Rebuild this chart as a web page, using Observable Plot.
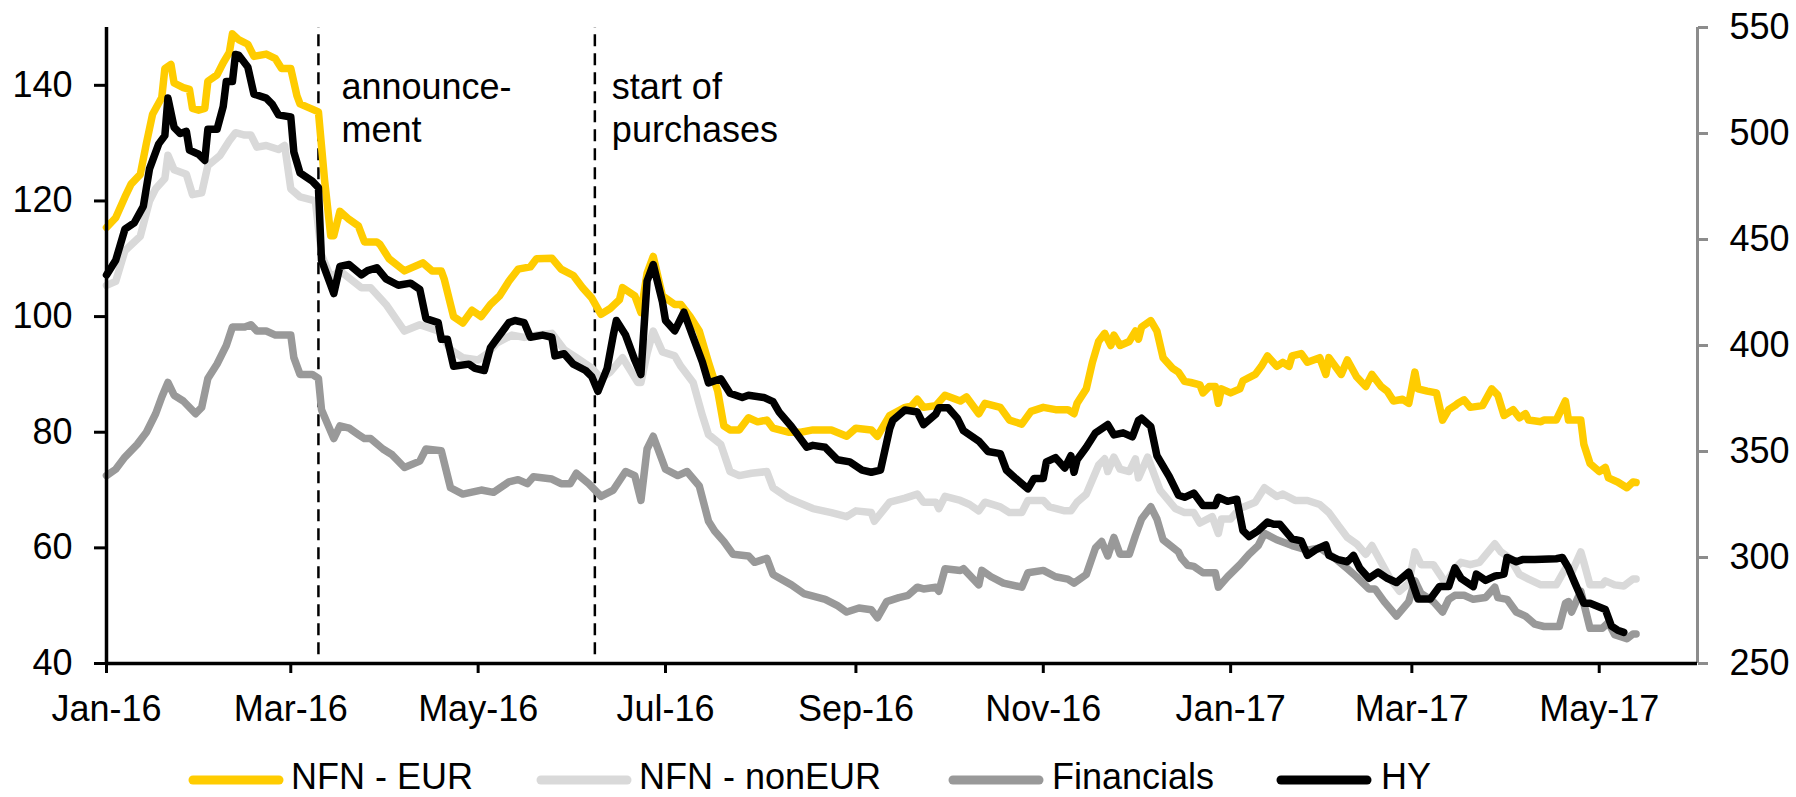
<!DOCTYPE html>
<html>
<head>
<meta charset="utf-8">
<script src="https://cdn.jsdelivr.net/npm/d3@7"></script>
<script src="https://cdn.jsdelivr.net/npm/@observablehq/plot@0.6"></script>
<style>
  html, body { margin: 0; padding: 0; background: #fff; overflow: hidden; }
  #chart { width: 1796px; height: 797px; position: relative; }
  #chart svg { display: block; }
</style>
</head>
<body>
<div id="chart"></div>
<script>
// ---- Data (day offsets from 1 Jan 2016) ----
const seriesNames = ["NFN - EUR", "NFN - nonEUR", "Financials", "HY"];
const seriesColors = ["#FFCC00", "#D9D9D9", "#999999", "#000000"];

const eurDays = [0,3,6,8,11,13,15,18,19,21,22,25,27,28,30,32,33,36,38,40,41,43,46,48,52,55,57,60,62,63,66,69,71,73,74,76,79,82,84,88,89,92,97,100,103,106,109,110,113,116,119,122,125,128,131,134,138,140,145,148,152,155,158,161,164,167,168,172,174,176,178,181,185,187,190,193,196,199,201,203,206,209,212,215,217,222,226,230,236,241,244,249,251,255,260,262,264,266,270,273,278,280,284,286,291,294,298,301,305,309,313,315,316,319,321,323,325,327,328,330,333,335,336,337,340,342,344,347,349,351,353,356,357,359,361,362,363,366,369,370,374,376,378,381,383,385,386,389,391,395,397,398,402,404,407,410,412,415,417,419,422,424,426,427,430,433,435,437,439,440,442,444,448,451,453,455,458,460,462,463,467,468,472,475,476,480,481,483,486,488,489,492,495,497,498];
const eurVals = [115.4,117.1,120.7,122.9,124.6,130,135,137.9,142.9,143.6,140.4,139.6,139.3,136,135.7,136,140.7,141.8,143.9,145.7,148.9,147.9,147.1,145,145.4,144.6,142.9,142.9,138.2,136.8,136.1,135.4,123.6,114,114,118.2,116.8,115.7,112.9,112.9,112.5,110,107.9,108.6,109.3,107.9,107.9,106.4,100,98.9,101.1,100,102.1,103.6,106.1,108.2,108.6,110,110.1,108.2,107.1,105,103.2,100.4,101.4,102.9,105,103.6,100.7,107.5,110.4,103.6,102.1,102.1,100,97.5,92.1,87.1,81.1,80.4,80.4,82.5,81.8,82.1,80.7,80,80,80.4,80.4,79.3,80.7,80.4,79.3,82.9,84.3,84.5,85.7,84.3,84.6,86.4,85.4,86.1,83.2,85,84.3,82.1,81.4,83.6,84.3,83.9,83.9,83.2,85,87.5,92.1,95.7,97.1,95,96.8,95,95.7,97.5,96.1,98.2,99.3,97.5,92.9,91.1,90.4,88.8,88.6,88.2,86.8,87.9,87.9,85,87.5,86.8,87.5,88.9,90,91.4,93.2,91.4,92.1,91.4,93.2,93.6,92.1,92.9,90,92.9,90,92.5,89.6,87.9,90,87.9,87.1,85.4,85.7,85,90.4,87.5,87.1,86.8,82.1,83.9,84.6,85,85.6,84.3,84.6,87.5,86.4,82.9,83.9,82.5,83.2,82.1,81.8,82.1,82.1,85.4,82.1,82.1,77.9,74.6,73.2,73.9,72.1,71.4,70.4,71.4,71.3];

const nonEurDays = [0,3,6,11,14,16,19,20,22,26,28,31,33,37,40,42,45,47,49,52,56,58,60,63,68,70,73,76,83,86,91,97,102,108,112,116,121,124,127,132,136,140,145,149,153,158,161,164,168,173,174,176,178,181,185,187,191,194,196,200,203,206,210,215,217,222,225,230,236,241,244,249,250,255,260,264,266,270,271,273,278,281,284,286,291,294,298,300,305,307,312,314,316,319,323,325,326,328,330,333,335,336,339,343,348,351,354,356,360,362,363,366,369,374,377,381,383,387,391,395,398,401,404,407,410,412,415,418,421,424,426,428,432,436,439,441,444,447,452,454,457,460,463,467,472,475,477,480,481,483,487,488,491,494,497,498];
const nonEurVals = [105.4,106.1,111.4,113.9,120,122.1,123.9,127.9,125.4,124.6,121.1,121.4,126.1,127.9,130.4,131.8,131.4,131.4,129.3,129.6,128.9,129.6,122.1,120.7,120,110.7,106.8,107.9,105,105,102.1,97.5,98.6,97.5,94.3,92.9,92.5,93.6,95.4,96.8,96.4,96.8,97.1,94.3,92.9,91.1,89.3,90.4,92.9,88.6,88.6,93.6,97.5,93.9,93.2,91.4,88.6,82.9,79.6,77.9,73.2,72.5,72.9,73.2,70.4,68.6,67.9,66.8,66.1,65.4,66.4,66.1,64.6,67.9,68.6,69.3,67.9,67.9,66.8,68.9,68.2,67.5,66.4,67.9,67.1,66.1,66.1,68.2,68.2,67.1,66.4,66.4,67.9,69.3,74.3,75.4,73.2,75.7,73.6,73.2,75.4,72.1,75.7,70,66.8,66.1,66.1,64.3,65.4,62.5,65,65,66.8,67.9,70.4,68.9,69.3,68.2,68.2,67.5,66.1,63.9,61.8,60.7,58.9,60.4,57.5,54.6,52.5,53.9,59.3,57.1,57.1,53.9,56.4,57.5,57.1,57.5,60.7,59.3,58.2,55.4,54.6,53.6,53.6,56.4,55.7,59.3,57.5,53.6,53.6,54.3,53.6,53.4,54.6,54.6];

const finDays = [0,3,6,10,13,16,18,20,22,25,29,31,33,36,39,41,45,47,49,52,55,60,61,63,67,69,70,74,76,79,82,84,86,90,93,97,102,104,109,112,116,122,126,131,134,137,139,145,148,151,153,157,161,165,169,172,174,176,178,182,186,189,193,196,198,201,204,209,211,215,217,223,227,234,238,241,245,249,251,254,258,261,264,266,270,271,273,278,279,284,285,288,292,298,300,305,309,313,315,319,322,324,326,328,330,333,335,337,340,342,344,349,350,352,354,357,361,362,365,369,372,375,377,381,386,391,395,400,404,407,411,413,416,420,424,426,428,431,432,435,437,439,442,445,449,452,453,456,459,462,465,468,473,475,476,477,480,483,487,489,491,495,497,498];
const finVals = [72.5,73.6,75.7,77.9,80,83.2,86.1,88.6,86.4,85.4,83.2,84.3,89.3,91.8,95,98.2,98.2,98.6,97.5,97.5,96.8,96.8,92.9,90,90,89.3,83.9,78.9,81.1,80.7,79.6,78.9,78.9,77.1,76.1,73.9,75,77.1,76.8,70.4,69.3,70,69.6,71.4,71.8,71.1,72.3,71.9,71.1,71.1,72.9,71.1,68.9,70,73.2,72.5,68.2,77.1,79.3,73.6,72.5,73.2,70.7,64.6,62.9,61.1,58.9,58.6,57.5,58.2,55.4,53.6,52.1,51.1,50,48.9,49.6,49.3,47.9,50.7,51.4,51.8,53.2,52.9,53.2,52.5,56.4,56.1,56.4,53.6,56.1,55,53.9,53.2,55.7,56.1,55,54.6,53.9,55.4,60,61.1,58.6,61.8,58.9,58.9,62.1,65,67.1,65,61.4,59.3,58.2,57,56.8,55.7,55.7,53.2,55,57.1,58.9,60.4,62.5,61.4,60.4,59.6,60,58.2,56.4,55,52.9,52.9,50.7,48.2,50.7,54.3,52.1,51.1,50.7,48.9,51.1,51.8,51.8,51.1,51.4,53.2,51.4,51.1,48.9,48.2,46.8,46.4,46.4,50.4,50.7,48.9,52.5,46.1,46.1,47.1,45,44.3,45.1,45.1];

// HY is on the right-hand axis (bp)
const hyDays = [0,3,6,9,12,14,17,19,20,22,24,26,27,30,32,33,36,38,39,41,42,43,46,48,52,54,56,60,61,63,67,69,70,74,76,79,83,85,88,91,95,99,102,104,108,109,111,113,118,120,123,125,127,131,133,136,138,142,145,146,149,152,156,158,160,163,165,166,169,172,174,176,178,181,182,185,188,191,194,196,200,203,207,209,214,217,219,223,228,230,234,238,242,246,249,252,255,256,260,264,266,270,271,274,277,279,284,287,291,293,296,300,302,305,306,309,312,314,315,316,319,322,326,328,331,334,336,337,340,342,346,349,351,354,357,361,362,365,368,370,372,375,378,380,382,386,389,391,394,397,398,401,404,406,408,411,414,417,420,424,427,431,434,437,439,441,445,446,449,452,455,456,459,461,465,472,474,476,478,481,483,488,490,492,494];
const hyVals = [433.3,440.2,454.9,457.8,465.7,483.3,495.1,499,516.7,502.9,500,501,492.2,490.2,487.3,502,502,512.7,524.5,524.5,537.3,537,531.4,518.6,516.7,513.7,508.8,507.8,491.2,481.4,477.5,474.5,440.2,424.5,437.3,438.2,433.3,435.3,436.7,431.4,428.4,429.4,426.5,412.7,410.8,402.9,402.9,390.2,391.2,389.2,388.2,399,402.9,410.8,411.8,410.8,403.9,404.9,403.9,395.1,396.1,391.2,388.2,385.3,378.4,389.2,404.9,411.8,404.9,393.1,386.3,430.4,438.2,420.6,411.8,406.9,415.7,403.9,392.2,382.4,384.3,377.5,375.5,376.5,375.5,373.5,368.6,361.8,352,352.9,352,346.1,345.1,341.2,340.2,341.2,360.8,364.7,369.6,368.6,362.7,367.6,370.6,370.6,365.7,359.8,354.9,350,349,341.2,337.3,332.4,337.3,337.3,345.1,347.1,342.2,348,340.2,346.1,352,358.8,362.7,357.8,358.8,356.9,364.7,365.7,361.8,348,338.2,329.4,328.4,330.4,324.5,324.5,328.4,326.5,327.5,312.7,309.8,312.7,316.7,315.7,315.7,308.8,307.8,301,303.9,305.9,301,299,298,301,295.1,290.2,293.1,290.2,288.2,293.1,280.4,280.4,286.3,286.3,295.1,290.2,286.3,292.2,289.2,291.2,292.2,300,298,299,299,299.4,300,295.1,288.2,278.4,278.4,275.5,267.6,265.7,264.7];

// Axes & annotations
const xTickDates = ["2016-01-01","2016-03-01","2016-05-01","2016-07-01","2016-09-01","2016-11-01","2017-01-01","2017-03-01","2017-05-01"];
const leftTicks = [40,60,80,100,120,140];
const rightTicks = [250,300,350,400,450,500,550];
const eventDates = ["2016-03-10","2016-06-08"];
const eventLabels = ["announce-\nment","start of\npurchases"];

// ---- Build ----
const day0 = Date.UTC(2016,0,1);
const toDate = d => new Date(day0 + d * 864e5);
const leftDomain = [40, 150];
const rightDomain = [250, 550];
const toLeft = v => leftDomain[0] + (v - rightDomain[0]) * (leftDomain[1]-leftDomain[0]) / (rightDomain[1]-rightDomain[0]);
const toRight = v => rightDomain[0] + (v - leftDomain[0]) * (rightDomain[1]-rightDomain[0]) / (leftDomain[1]-leftDomain[0]);

function mk(name, days, vals, conv) {
  return days.map((d, i) => ({series: name, date: toDate(d), value: conv ? conv(vals[i]) : vals[i]}));
}
const series = [
  mk(seriesNames[0], eurDays, eurVals),
  mk(seriesNames[1], nonEurDays, nonEurVals),
  mk(seriesNames[2], finDays, finVals),
  mk(seriesNames[3], hyDays, hyVals, toLeft)
];

const xStart = new Date(day0);
const xEnd = new Date(Date.UTC(2017,5,2));
const font = "'Liberation Sans', Arial, Helvetica, sans-serif";
const events = eventDates.map((d, i) => ({date: new Date(d), label: eventLabels[i]}));
const eventDx = [23, 17];

const plot = Plot.plot({
  width: 1796,
  height: 741,
  marginLeft: 106,
  marginRight: 99,
  marginTop: 27,
  marginBottom: 78,
  style: {fontFamily: font, fontSize: "36px", color: "#000", background: "#fff", overflow: "visible"},
  x: {type: "utc", domain: [xStart, xEnd]},
  y: {domain: leftDomain},
  marks: [
    Plot.ruleX(events, {x: "date", y1: 41.5, y2: 150, stroke: "#000", strokeWidth: 2.5, strokeDasharray: "12,7"}),
    ...events.map((e, i) => Plot.text([e], {x: "date", y: 143, text: "label", dx: eventDx[i], textAnchor: "start", lineAnchor: "top", lineHeight: 1.2, fontSize: 36, fill: "#000"})),
    ...series.map((s, i) => Plot.line(s, {x: "date", y: "value", stroke: seriesColors[i], strokeWidth: 7.5, strokeLinejoin: "round", strokeLinecap: "round", curve: "linear"})),
    Plot.ruleX([xEnd], {y1: 40, y2: 150, stroke: "#8c8c8c", strokeWidth: 3}),
    Plot.ruleX([xStart], {y1: 40, y2: 150, stroke: "#000", strokeWidth: 3.5}),
    Plot.ruleY([40], {stroke: "#000", strokeWidth: 3.5}),
    Plot.axisX({ticks: xTickDates.map(d => new Date(d)), tickFormat: d3.utcFormat("%b-%y"), tickSize: 10, tickPadding: 22, strokeWidth: 3, fontSize: 36, label: null}),
    Plot.axisY({anchor: "left", ticks: leftTicks, tickSize: 12, tickPadding: 22, strokeWidth: 3, fontSize: 36, label: null}),
    Plot.axisY({anchor: "right", ticks: rightTicks.map(toLeft), tickFormat: v => String(Math.round(toRight(v))), tickSize: 10, tickPadding: 22, stroke: "#8c8c8c", fill: "#000", strokeWidth: 3, fontSize: 36, label: null})
  ]
});

const root = document.getElementById("chart");
root.appendChild(plot);

// ---- Legend below the chart ----
const legendX = [188, 536, 948, 1276];
const legendTextX = [291, 639, 1052, 1381];
const leg = d3.create("svg").attr("width", 1796).attr("height", 56)
  .style("display", "block").style("font-family", font).style("font-size", "36px");
seriesNames.forEach((n, i) => {
  leg.append("line").attr("x1", legendX[i] + 5).attr("x2", legendX[i] + 91)
    .attr("y1", 39).attr("y2", 39)
    .attr("stroke", seriesColors[i]).attr("stroke-width", 9).attr("stroke-linecap", "round");
  leg.append("text").attr("x", legendTextX[i]).attr("y", 48).attr("fill", "#000").text(n);
});
root.appendChild(leg.node());
</script>
</body>
</html>
